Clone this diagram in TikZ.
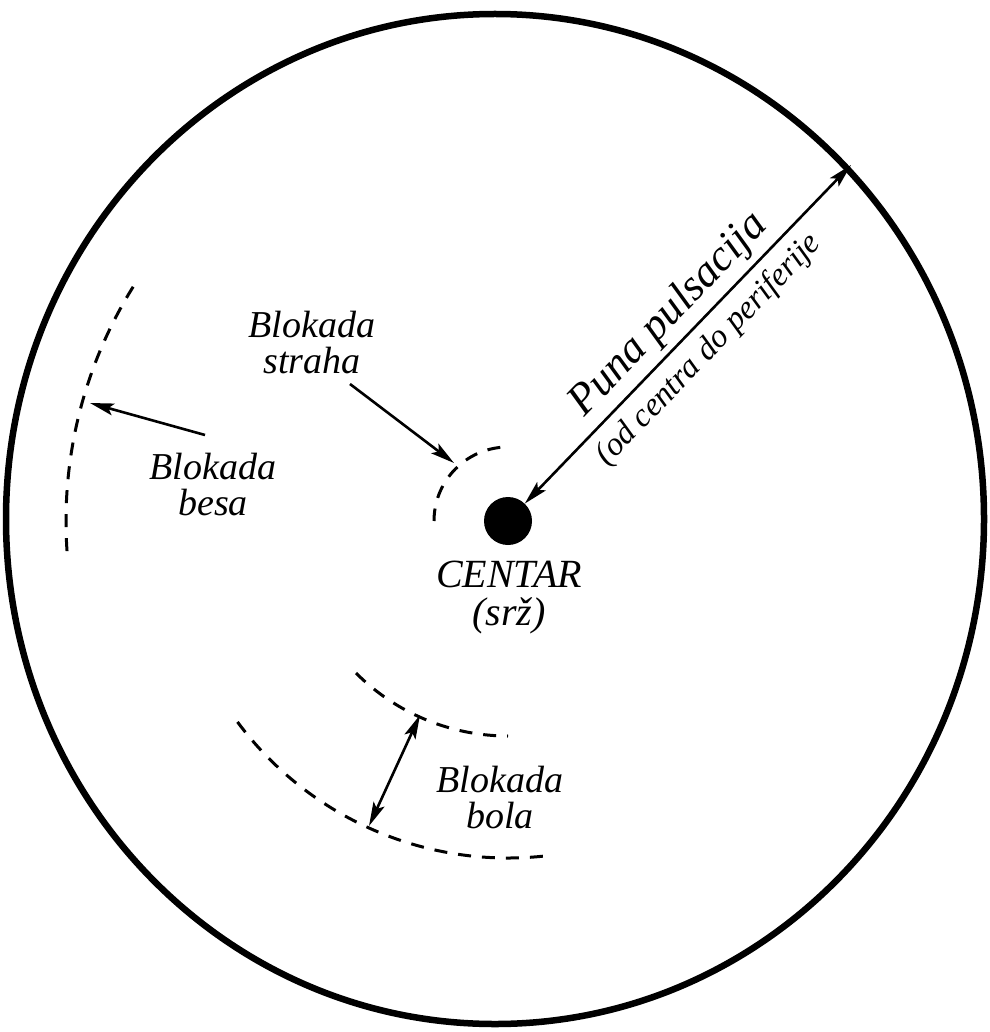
\documentclass[tikz,border=0pt]{standalone}
\usepackage{fontspec}
\setmainfont{Liberation Serif}
\usetikzlibrary{arrows.meta}
\tikzset{
  rim/.style={line width=6.5pt},
  dashedarc/.style={line width=3pt, dash pattern=on 13pt off 11pt},
  tip/.style={Stealth[length=24pt,width=12pt,inset=5pt]},
  pointer/.style={line width=2.6pt, -{Stealth[length=24pt,width=12pt,inset=5pt]}},
  twoway/.style={line width=2.6pt, {Stealth[length=24pt,width=12pt,inset=5pt]}-{Stealth[length=24pt,width=12pt,inset=5pt]}},
  lbl/.style={font=\fontsize{38}{36}\selectfont\itshape, align=center, inner sep=0pt},
}
\begin{document}
\begin{tikzpicture}[x=1pt,y=1pt]
\useasboundingbox (0,0) rectangle (989,-1032);
% outer circle
\draw[rim] (495,-519) ellipse [x radius=489pt, y radius=505pt];
% centre
\node[circle, fill=black, minimum size=48pt, inner sep=0pt] (c) at (508,-521) {};
\node[lbl, font=\fontsize{40}{38}\selectfont\itshape] (centar) at (509,-598) {CENTAR\\(srž)};
% full pulsation arrow
\coordinate (rimpt) at (851,-165);
\draw[twoway] (c) -- (rimpt);
\node[inner sep=0pt, rotate=46, font=\fontsize{44}{44}\selectfont\itshape] (puna) at (669,-315) {Puna pulsacija};
\node[inner sep=0pt, rotate=46, font=\fontsize{33}{33}\selectfont\itshape] (od) at (709,-350) {(od centra do periferije};
% fear block
\draw[dashedarc] (508,-521) ++(96:74pt) arc[start angle=96, end angle=180, radius=74pt];
\node[lbl] (straha) at (312,-343) {Blokada\\straha};
\coordinate (strahaS) at (350,-384);
\coordinate (strahaT) at (454,-463);
\draw[pointer] (strahaS) -- (strahaT);
% anger block
\draw[dashedarc] (508,-521) ++(148:442pt) arc[start angle=148, end angle=184, radius=442pt];
\node[lbl] (besa) at (213,-485) {Blokada\\besa};
\coordinate (besaS) at (205,-435);
\coordinate (besaT) at (90,-403);
\draw[pointer] (besaS) -- (besaT);
% pain block
\draw[dashedarc] (508,-521) ++(225:215pt) arc[start angle=225, end angle=270, radius=215pt];
\draw[dashedarc] (508,-521) ++(216.6:337pt) arc[start angle=216.6, end angle=277, radius=337pt];
\coordinate (bolaA) at (420,-715);
\coordinate (bolaB) at (369,-826);
\draw[twoway] (bolaA) -- (bolaB);
\node[lbl] (bola) at (500,-798) {Blokada\\bola};
\end{tikzpicture}
\end{document}
